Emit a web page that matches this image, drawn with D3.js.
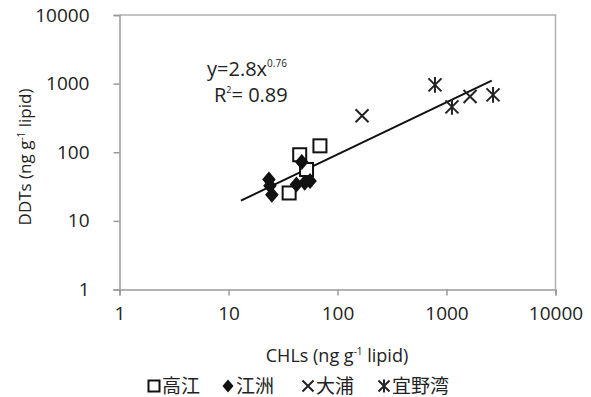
<!DOCTYPE html>
<html>
<head>
<meta charset="utf-8">
<script src="https://cdn.jsdelivr.net/npm/d3@7"></script>
<style>
  body { margin: 0; background: #fff; }
  svg { display: block; font-family: "Open Sans", "Noto Sans", sans-serif; }
</style>
</head>
<body>
<div id="chart"></div>
<script>
// 高江 (open squares)
const takaeX = [45, 69, 36, 52];
const takaeY = [92, 124, 25.5, 56];
// 江洲 (filled diamonds)
const gesuX = [23.5, 24, 25, 47, 42, 50, 56];
const gesuY = [40, 32.5, 24, 72, 34, 36, 38];
// 大浦 (crosses)
const ouraX = [168, 1644];
const ouraY = [340, 648];
// 宜野湾 (asterisks)
const ginowanX = [784, 1122, 2672];
const ginowanY = [959, 459, 686];

const tickValues = [1, 10, 100, 1000, 10000];
const fitCoef = 2.8, fitExp = 0.76;
const fitRange = [13, 2600];

const series = [
  { name: "高江", xs: takaeX, ys: takaeY, shape: "square" },
  { name: "江洲", xs: gesuX, ys: gesuY, shape: "diamond" },
  { name: "大浦", xs: ouraX, ys: ouraY, shape: "cross" },
  { name: "宜野湾", xs: ginowanX, ys: ginowanY, shape: "star" }
];

const width = 591, height = 397;
const margin = { left: 119.5, right: 35.5, top: 15, bottom: 107.5 };

const svg = d3.select("#chart").append("svg")
  .attr("width", width).attr("height", height);

const x = d3.scaleLog().domain([1, 10000]).range([margin.left, width - margin.right]);
const y = d3.scaleLog().domain([1, 10000]).range([height - margin.bottom, margin.top]);

const axisColor = "#9a9a9a";

// plot frame (top & right)
svg.append("path")
  .attr("d", `M${x(1)},${y(10000)}H${x(10000)}V${y(1)}`)
  .attr("fill", "none").attr("stroke", "#b0b0b0").attr("stroke-width", 1.5);

const xAxis = svg.append("g")
  .attr("transform", `translate(0,${y(1)})`)
  .call(d3.axisBottom(x).tickValues(tickValues).tickFormat(d3.format("d")).tickSize(6).tickPadding(10));
const yAxis = svg.append("g")
  .attr("transform", `translate(${x(1)},0)`)
  .call(d3.axisLeft(y).tickValues(tickValues).tickFormat(d3.format("d")).tickSize(6).tickPadding(24));

[xAxis, yAxis].forEach(g => {
  g.select(".domain").attr("stroke", axisColor).attr("stroke-width", 1.5);
  g.selectAll(".tick line").attr("stroke", axisColor).attr("stroke-width", 1.5);
  g.selectAll(".tick text").attr("fill", "#222").style("font-size", "19px")
    .style("font-family", "'Open Sans', sans-serif");
});
xAxis.selectAll(".tick text").attr("dy", "0.75em");

// power trendline
const fitX = d3.range(0, 61).map(i => fitRange[0] * Math.pow(fitRange[1] / fitRange[0], i / 60));
svg.append("path")
  .datum(fitX)
  .attr("fill", "none").attr("stroke", "#111").attr("stroke-width", 2)
  .attr("d", d3.line().x(d => x(d)).y(d => y(fitCoef * Math.pow(d, fitExp))));

function drawMarker(g, shape, s) {
  const h = s / 2;
  if (shape === "square") {
    g.append("rect").attr("x", -h).attr("y", -h).attr("width", s).attr("height", s)
      .attr("fill", "#fff").attr("stroke", "#111").attr("stroke-width", 2);
  } else if (shape === "diamond") {
    g.append("path").attr("d", `M0,${-h}L${h * 0.85},0L0,${h}L${-h * 0.85},0Z`)
      .attr("fill", "#111");
  } else if (shape === "cross") {
    g.append("path").attr("d", `M${-h},${-h}L${h},${h}M${-h},${h}L${h},${-h}`)
      .attr("stroke", "#222").attr("stroke-width", 2);
  } else {
    g.append("path").attr("d", `M${-h},${-h}L${h},${h}M${-h},${h}L${h},${-h}M0,${-h * 1.2}V${h * 1.2}`)
      .attr("stroke", "#222").attr("stroke-width", 2);
  }
}

series.forEach(sr => {
  sr.xs.forEach((v, i) => {
    const g = svg.append("g").attr("transform", `translate(${x(v)},${y(sr.ys[i])})`);
    drawMarker(g, sr.shape, sr.shape === "diamond" ? 16 : 13);
  });
});

// equation annotation
const eq = svg.append("text").attr("x", 207).attr("y", 76)
  .attr("fill", "#222").style("font-size", "20px");
eq.append("tspan").text("y=2.8x");
eq.append("tspan").attr("dy", -9).style("font-size", "10px").text("0.76");
const r2 = svg.append("text").attr("x", 214).attr("y", 102)
  .attr("fill", "#222").style("font-size", "20px");
r2.append("tspan").text("R");
r2.append("tspan").attr("dy", -9).style("font-size", "9px").text("2");
r2.append("tspan").attr("dy", 9).text("= 0.89");

// axis titles
const yTitle = svg.append("text")
  .attr("transform", `translate(31,${157}) rotate(-90)`)
  .attr("text-anchor", "middle").attr("fill", "#222").style("font-size", "17px");
yTitle.append("tspan").text("DDTs (ng g");
yTitle.append("tspan").attr("dy", -6).style("font-size", "10px").text("-1");
yTitle.append("tspan").attr("dy", 6).text(" lipid)");

const xTitle = svg.append("text")
  .attr("x", 337).attr("y", 362)
  .attr("text-anchor", "middle").attr("fill", "#222").style("font-size", "18px");
xTitle.append("tspan").text("CHLs (ng g");
xTitle.append("tspan").attr("dy", -7).style("font-size", "10px").text("-1");
xTitle.append("tspan").attr("dy", 7).text(" lipid)");

// legend
const legendX = [154, 228, 308, 384];
const legend = svg.append("g");
series.forEach((sr, i) => {
  const g = legend.append("g").attr("transform", `translate(${legendX[i]},${386})`);
  drawMarker(g, sr.shape, sr.shape === "diamond" ? 13 : 11);
  g.append("text").attr("x", 8).attr("y", 7).attr("fill", "#222")
    .style("font-family", "'Noto Sans CJK JP', sans-serif").style("font-size", "19px")
    .text(sr.name);
});
</script>
</body>
</html>
